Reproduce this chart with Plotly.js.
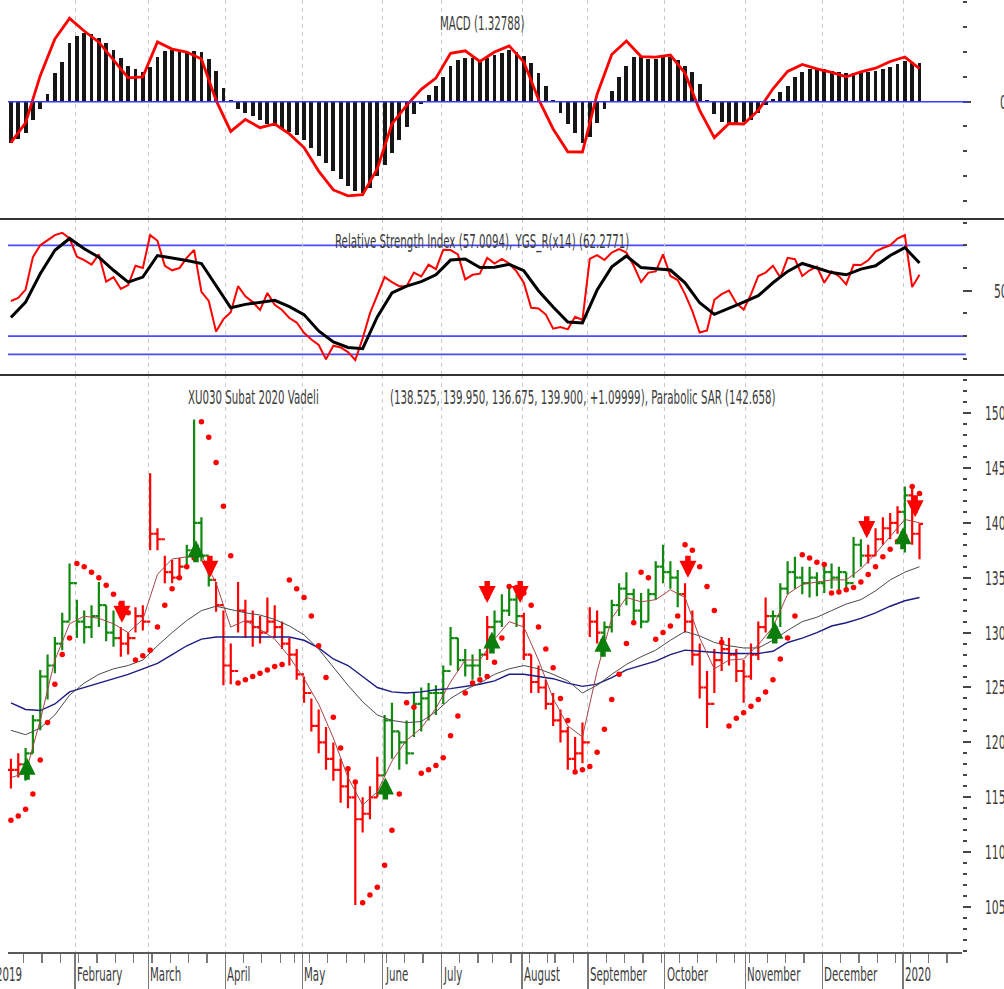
<!DOCTYPE html>
<html><head><meta charset="utf-8">
<script src="https://cdn.plot.ly/plotly-3.0.1.min.js"></script>
<style>html,body{margin:0;padding:0;background:#fff;overflow:hidden}#chart{width:1004px;height:989px}</style>
</head><body><div id="chart"></div>
<script>
// ---------- DATA ----------
// x unit = trading day index (0 = first visible bar, 8 Jan 2019)
const monthNames = ['2019','February','March','April','May','June','July','August','September','October','November','December','2020'];
const monthStart = [-4, 18, 38, 59, 80, 102, 118, 140, 158, 179, 201, 222, 244];
const weekStart = [4,9,14,19,24,29,34,39,44,49,54,59,64,69,74,78,82,87,92,97,102,103,108,113,118,123,128,132,137,142,147,149,154,158,163,168,173,178,183,188,193,198,202,207,212,217,222,227,232,237,242,246,251,256];

// price bars, one every 2 trading days
const barHigh = [118.5,119.0,119.5,122.5,126.6,128.0,129.6,131.8,136.3,133.0,
 132.0,132.5,134.6,132.5,132.0,130.5,130.0,132.3,132.5,144.5,
 139.5,137.0,136.6,136.8,138.0,149.4,140.5,136.2,134.6,132.0,
 129.0,134.6,133.0,132.0,131.5,133.2,132.5,131.0,129.5,128.5,
 126.0,124.0,123.0,121.4,120.0,118.5,117.8,116.2,115.0,116.0,
 118.7,122.5,123.6,121.0,122.0,124.5,125.0,125.4,125.2,127.0,
 130.5,129.5,128.5,128.0,128.5,131.5,132.0,133.5,134.0,133.5,
 131.8,128.0,127.0,125.7,124.5,123.0,121.4,120.5,121.8,132.3,
 132.0,131.0,133.0,134.5,135.5,134.0,133.6,134.0,136.5,138.0,
 136.5,135.7,134.5,132.0,129.0,126.5,128.5,129.6,129.5,128.5,
 127.5,129.0,131.0,133.2,132.0,134.5,136.5,136.9,136.0,136.0,
 135.5,136.0,136.3,136.0,135.5,138.7,138.5,138.0,139.5,140.5,
 140.9,141.5,143.3,143.2,139.95];
const barLow = [115.8,116.8,116.5,119.0,121.1,123.9,126.3,128.4,131.1,129.5,
 129.0,129.5,130.5,129.2,128.7,127.8,128.0,130.0,130.2,137.5,
 137.5,134.5,134.5,134.8,135.8,137.3,136.5,134.2,131.9,125.2,
 125.3,130.0,129.5,128.7,129.0,130.0,129.5,128.5,127.0,125.7,
 123.6,121.0,119.0,117.5,116.5,114.5,114.0,105.2,111.8,113.0,
 115.0,117.0,118.5,117.5,118.0,120.5,121.0,122.0,122.5,123.5,
 127.0,126.5,126.0,125.7,126.0,127.5,129.5,130.5,131.5,130.5,
 127.5,124.5,124.5,123.0,121.5,120.0,117.5,117.3,118.1,129.6,
 129.0,128.5,130.0,131.5,132.5,131.0,130.4,131.0,133.0,134.5,
 134.0,132.3,130.0,127.0,124.0,121.3,124.5,126.5,127.0,125.5,
 123.6,125.7,127.5,130.0,129.5,130.5,133.5,134.0,133.5,133.2,
 133.3,133.6,134.0,133.9,134.0,135.0,136.0,136.3,137.0,138.0,
 138.5,139.0,137.3,138.0,136.675];
const barClose = [117.5,118.0,119.0,122.0,126.0,127.0,129.0,131.0,134.5,131.0,
 130.5,131.5,132.5,130.0,129.5,129.0,129.5,131.5,131.0,139.0,
 138.5,135.5,135.0,136.0,137.5,140.0,137.0,134.8,132.5,127.0,
 126.5,132.0,131.0,130.5,130.0,131.0,130.5,129.0,128.0,126.2,
 124.5,121.5,120.0,118.5,117.5,116.0,115.0,113.0,113.5,115.0,
 117.0,122.0,121.0,120.0,119.0,123.5,124.0,124.5,124.5,126.5,
 129.5,127.5,127.0,127.0,128.0,130.5,131.0,132.0,133.0,131.5,
 128.0,125.5,125.0,123.5,122.0,121.0,118.5,119.0,120.0,131.0,
 130.0,130.5,132.5,134.0,133.5,132.0,131.0,133.5,136.0,135.5,
 135.0,133.5,131.0,128.0,125.0,123.5,127.5,128.5,128.0,126.5,
 126.0,128.0,130.5,131.5,131.5,134.0,135.5,135.0,134.5,135.0,
 134.5,135.5,135.0,135.5,134.5,138.0,137.0,137.0,138.5,139.5,
 140.0,141.0,142.5,139.0,139.9];
const barTrendRuns = [['R',2],['G',13],['R',9],['G',4],['R',23],['G',14],['R',1],['G',4],['R',11],['G',11],['R',12],['G',13],['R',5],['G',1],['R',2]];

// parabolic SAR, one value per bar
const sar = [112.9,113.3,113.9,115.3,118.4,121.8,125.3,128.0,129.5,136.3,
 136.0,135.5,135.0,134.3,133.5,132.6,131.8,127.5,127.9,128.4,
 130.5,132.5,134.0,135.0,136.0,136.8,149.2,147.8,145.5,141.5,
 137.0,125.4,125.7,126.0,126.3,126.6,126.9,127.1,134.8,134.0,
 133.2,131.5,128.8,125.9,122.3,119.5,117.6,116.4,105.4,106.1,
 106.8,108.8,112.0,115.3,123.6,123.2,117.2,117.5,117.9,118.6,
 120.6,122.4,124.5,125.4,125.7,126.0,127.3,129.5,134.2,134.1,
 133.6,132.5,130.5,128.5,126.8,124.0,122.0,117.3,117.5,117.8,
 119.1,121.2,123.9,126.2,129.0,130.9,135.5,135.0,129.4,130.0,
 130.6,131.5,138.0,137.5,136.0,134.2,132.0,129.1,121.5,122.2,
 122.7,123.3,123.9,124.6,125.7,127.6,129.5,131.5,137.1,136.8,
 136.4,136.2,133.6,133.7,133.9,134.1,134.6,135.3,136.0,136.9,
 137.6,138.3,138.8,143.3,142.66];

// moving averages, one value every 4 trading days
const maShort = [116.8,117.2,122.0,127.5,130.8,131.5,131.3,130.8,130.0,131.2,
 135.3,136.7,136.9,137.1,134.5,130.5,131.1,130.3,129.4,127.8,
 125.8,123.5,120.4,116.8,114.3,115.5,118.3,120.2,121.3,123.1,
 125.5,127.5,127.5,129.4,131.0,130.5,127.5,124.0,121.5,120.5,
 126.5,131.3,133.2,132.8,133.0,133.9,133.2,129.5,126.7,127.5,
 127.6,128.9,130.5,133.5,134.4,134.6,134.8,134.8,135.8,137.2,
 138.7,140.3,140.0];
const maMid = [121.1,120.7,121.3,122.5,124.3,125.4,126.2,126.7,127.0,127.5,
 128.8,130.0,131.1,132.0,132.4,132.1,131.8,131.6,131.2,130.6,
 129.8,128.5,126.8,125.2,123.7,122.5,122.0,121.8,121.9,122.8,
 124.0,124.8,125.4,126.2,126.7,127.0,126.7,126.2,125.6,124.5,
 125.2,126.2,127.1,127.8,128.4,129.3,130.1,129.7,129.1,128.8,
 128.6,128.6,129.3,130.2,131.0,131.4,132.0,132.6,133.0,133.8,
 134.8,135.5,136.0];
const maLong = [123.6,123.0,122.9,123.5,124.6,125.0,125.4,125.8,126.2,126.7,
 127.2,128.0,128.8,129.4,129.6,129.6,129.6,129.6,129.6,129.6,
 129.3,128.6,127.6,127.0,126.0,125.0,124.6,124.5,124.6,124.8,
 124.9,125.1,125.3,125.6,126.2,126.2,126.0,125.8,125.4,125.1,
 125.3,125.9,126.6,127.0,127.4,128.0,128.4,128.3,128.2,128.1,
 128.1,128.1,128.3,129.1,129.5,130.0,130.6,130.9,131.3,131.8,
 132.4,132.9,133.2];

// RSI(14) every 2 days, its average (YGS_R) every 4 days
const rsi = [45.5,46.8,50.5,64.8,70.0,72.3,74.5,75.5,73.0,65.0,
 63.5,61.5,66.0,54.0,56.0,50.8,52.5,61.0,60.0,74.5,
 72.0,61.0,59.0,60.0,64.5,68.0,49.5,45.5,32.0,37.5,
 40.5,52.0,47.5,45.0,41.5,49.0,43.8,41.5,38.0,36.0,
 31.5,28.5,26.1,19.8,25.8,25.0,23.0,19.5,29.0,40.0,
 47.8,56.0,53.8,52.0,52.0,58.0,56.3,61.5,59.5,68.0,
 67.9,66.0,55.0,57.0,57.5,64.5,62.0,64.0,62.0,58.5,
 53.5,42.5,42.2,39.5,33.3,34.0,33.0,38.5,37.1,64.0,
 65.7,63.5,66.8,68.3,66.8,61.0,53.8,58.0,58.5,66.0,
 56.5,54.7,48.5,41.0,31.6,32.5,46.0,48.5,50.1,44.5,
 41.7,48.4,56.5,58.0,61.0,55.8,64.5,63.9,56.5,59.0,
 60.6,53.5,58.5,56.4,52.8,61.4,61.3,63.4,67.2,68.8,
 70.0,73.0,74.5,51.6,57.0];
const rsiAvg = [38.2,45.0,57.5,67.8,73.0,68.5,64.8,59.0,53.8,56.0,
 65.5,64.5,63.3,62.0,52.2,42.5,44.0,45.0,45.8,43.0,
 39.5,32.3,27.5,25.0,24.5,38.5,49.0,52.0,54.0,57.0,
 63.5,64.0,60.2,60.3,61.6,58.8,50.0,42.8,36.2,35.8,
 50.3,60.5,65.3,60.2,59.8,59.1,53.5,44.7,39.6,42.2,
 45.0,47.8,53.5,58.5,62.0,60.0,58.0,57.0,59.5,61.0,
 65.5,69.0,62.2];
const rsiLevels = [70, 30, 22];

// MACD line every 4 days, signal histogram every 2 days
const macdLine = [-1.65,-0.85,1.05,2.53,3.36,2.85,2.40,1.70,0.96,1.00,
 2.41,2.12,2.00,1.72,0.05,-1.20,-0.72,-1.05,-0.90,-1.30,
 -1.85,-2.80,-3.56,-3.80,-3.75,-2.70,-0.90,-0.15,0.50,0.95,
 1.95,2.05,1.62,2.00,2.25,1.60,0.10,-1.10,-2.02,-2.03,
 0.30,1.90,2.45,1.82,1.80,1.88,1.15,-0.35,-1.45,-0.88,
 -0.90,-0.35,0.52,1.22,1.50,1.32,1.18,1.00,1.20,1.35,
 1.62,1.80,1.33];
const macdHist = [-1.65,-1.50,-1.27,-0.75,-0.30,0.30,1.15,1.62,2.38,2.65,
 2.77,2.72,2.58,2.38,2.10,1.75,1.45,1.30,1.20,1.40,
 1.82,2.03,2.10,2.02,2.00,2.03,2.00,1.72,1.25,0.57,
 0.05,-0.30,-0.45,-0.59,-0.74,-0.90,-1.00,-1.09,-1.21,-1.36,
 -1.55,-1.88,-2.18,-2.47,-2.80,-3.10,-3.40,-3.60,-3.68,-3.48,
 -3.00,-2.55,-2.05,-1.55,-1.02,-0.50,-0.09,0.28,0.62,1.00,
 1.45,1.68,1.78,1.77,1.68,1.76,1.87,1.98,2.07,2.02,
 1.85,1.55,1.15,0.63,0.07,-0.45,-0.90,-1.28,-1.65,-1.43,
 -0.86,-0.30,0.45,0.98,1.45,1.80,1.82,1.73,1.72,1.82,
 1.80,1.68,1.45,1.18,0.70,0.07,-0.48,-0.82,-0.86,-0.84,
 -0.82,-0.75,-0.45,-0.15,0.10,0.40,0.65,0.98,1.18,1.30,
 1.36,1.30,1.25,1.21,1.17,1.16,1.16,1.19,1.25,1.30,
 1.40,1.52,1.66,1.61,1.56];

// signal arrows (day index, price at arrow tip)
const buyIdx = [4.4, 50.5, 102.2, 131.3, 161.6, 208.5, 243.5];
const buyTip = [118.6, 138.4, 116.8, 130.1, 129.8, 131.0, 139.6];
const sellIdx = [30.3, 54.3, 130.0, 139.0, 184.8, 233.6, 246.8];
const sellTip = [130.9, 135.0, 132.7, 132.7, 135.0, 138.6, 140.5];

const titleMacd = 'MACD (1.32788)';
const titleRsi = 'Relative Strength Index (57.0094), YGS_R(x14) (62.2771)';
const titlePrice = 'XU030 Subat 2020 Vadeli';
const titleValues = '(138.525, 139.950, 136.675, 139.900, +1.09999), Parabolic SAR (142.658)';

// ---------- BUILD ----------
const FONT = "'Liberation Sans Narrow','Arial Narrow','DejaVu Sans Condensed',sans-serif";
const TXT = '#3c3c3c';
const XR = [-0.8, 259.6];
const idx = (arr, step) => arr.map((_, i) => i * step);
const barX = idx(barClose, 2);
const barOpen = barClose.map((c, i) => i === 0 ? c : barClose[i - 1]);
const trend = [];
barTrendRuns.forEach(([c, n]) => { for (let k = 0; k < n; k++) trend.push(c); });

function ohlcFor(flag, color) {
  const o = {x: [], open: [], high: [], low: [], close: []};
  trend.forEach((t, i) => {
    if (t !== flag) return;
    o.x.push(barX[i]); o.open.push(barOpen[i]); o.high.push(barHigh[i]);
    o.low.push(barLow[i]); o.close.push(barClose[i]);
  });
  return Object.assign(o, {type: 'ohlc', xaxis: 'x', yaxis: 'y', tickwidth: 0.48,
    increasing: {line: {color: color, width: 2.2}}, decreasing: {line: {color: color, width: 2.2}},
    hoverinfo: 'skip'});
}

const traces = [
  {x: idx(maLong, 4), y: maLong, type: 'scatter', mode: 'lines', line: {color: '#1c1c84', width: 1.4}, xaxis: 'x', yaxis: 'y'},
  {x: idx(maMid, 4), y: maMid, type: 'scatter', mode: 'lines', line: {color: '#4a4a4a', width: 1}, xaxis: 'x', yaxis: 'y'},
  {x: idx(maShort, 4), y: maShort, type: 'scatter', mode: 'lines', line: {color: '#a84545', width: 1}, xaxis: 'x', yaxis: 'y'},
  ohlcFor('G', '#0f8a0f'),
  ohlcFor('R', '#ff0000'),
  {x: idx(sar, 2), y: sar, type: 'scatter', mode: 'markers', marker: {color: '#ff0000', size: 5.5}, xaxis: 'x', yaxis: 'y'},
  {x: idx(rsi, 2), y: rsi, type: 'scatter', mode: 'lines', line: {color: '#ff0000', width: 2}, xaxis: 'x2', yaxis: 'y2'},
  {x: idx(rsiAvg, 4), y: rsiAvg, type: 'scatter', mode: 'lines', line: {color: '#000000', width: 3}, xaxis: 'x2', yaxis: 'y2'},
  {x: idx(macdHist, 2), y: macdHist, type: 'bar', width: 1.05, marker: {color: '#161616'}, xaxis: 'x3', yaxis: 'y3'},
  {x: idx(macdLine, 4), y: macdLine, type: 'scatter', mode: 'lines', line: {color: '#ff0000', width: 2.8}, xaxis: 'x3', yaxis: 'y3'}
];

const bounds = monthStart.map(s => s - 0.5);
const weekTicks = weekStart.map(s => s - 0.5);
const pxX = v => (v - XR[0]) / (XR[1] - XR[0]);

const gridX = {tickmode: 'array', tickvals: bounds, showgrid: true, gridcolor: '#c9c9c9', griddash: '4px,4px', gridwidth: 1,
  zeroline: false, range: XR, showticklabels: false, fixedrange: true};

const yTickBase = {side: 'right', showgrid: false, zeroline: false, showline: false, ticks: 'outside', tickwidth: 2, tickcolor: '#454545',
  tickfont: {family: FONT, size: 20, color: TXT}, fixedrange: true};

const annotations = [];
monthNames.forEach((m, i) => annotations.push({xref: 'paper', yref: 'paper', x: pxX(bounds[i]) , y: -0.0235, xanchor: 'left', yanchor: 'middle',
  align: 'left', text: m, showarrow: false, font: {family: FONT, size: 19, color: TXT}}));
[[titleMacd, 440, 23], [titleRsi, 335, 241], [titlePrice, 188, 397], [titleValues, 390, 397]].forEach(([t, px, py]) =>
  annotations.push({xref: 'paper', yref: 'paper', x: (px - 10) / 954, y: (952 - py) / 952, xanchor: 'left', yanchor: 'middle', align: 'left',
    text: t, showarrow: false, font: {family: FONT, size: 19, color: TXT}}));
buyIdx.forEach((d, i) => annotations.push({xref: 'x', yref: 'y', x: d, y: buyTip[i], ax: 0, ay: 32, text: ' ', showarrow: true,
  arrowhead: 2, arrowsize: 0.62, arrowwidth: 5.5, arrowcolor: '#0a7d0a', standoff: 0}));
sellIdx.forEach((d, i) => annotations.push({xref: 'x', yref: 'y', x: d, y: sellTip[i], ax: 0, ay: -32, text: ' ', showarrow: true,
  arrowhead: 2, arrowsize: 0.62, arrowwidth: 5.5, arrowcolor: '#ff0000', standoff: 0}));

const shapes = [];
rsiLevels.forEach(v => shapes.push({type: 'line', xref: 'paper', yref: 'y2', x0: 0, x1: 1.004, y0: v, y1: v, line: {color: '#4b4bff', width: 1.8}, layer: 'below'}));
shapes.push({type: 'line', xref: 'paper', yref: 'y3', x0: 0, x1: 1.006, y0: 0, y1: 0, line: {color: '#3a3aff', width: 1.5}, layer: 'above'});
[219, 375].forEach(py => shapes.push({type: 'line', xref: 'paper', yref: 'paper', x0: -0.01, x1: 1.05, y0: (952 - py) / 952, y1: (952 - py) / 952,
  line: {color: '#333333', width: 2}}));

const layout = {
  width: 1004, height: 989, margin: {l: 8, r: 42, t: 0, b: 37, pad: 0},
  paper_bgcolor: '#ffffff', plot_bgcolor: '#ffffff', showlegend: false, bargap: 0,
  xaxis: Object.assign({}, gridX, {anchor: 'y', domain: [0, 1], ticks: 'outside', ticklen: 37, tickwidth: 1.2, tickcolor: '#7a7a7a',
    showline: true, linecolor: '#5a5a5a', linewidth: 2, rangeslider: {visible: false},
    minor: {tickmode: 'array', tickvals: weekTicks, ticks: 'outside', ticklen: 9, tickwidth: 1.2, tickcolor: '#7a7a7a', showgrid: false}}),
  xaxis2: Object.assign({}, gridX, {anchor: 'y2', matches: 'x', ticks: ''}),
  xaxis3: Object.assign({}, gridX, {anchor: 'y3', matches: 'x', ticks: ''}),
  yaxis: Object.assign({}, yTickBase, {domain: [0, 0.6061], range: [100.91, 153.46], anchor: 'x', tickmode: 'array',
    tickvals: [105, 110, 115, 120, 125, 130, 135, 140, 145, 150], ticklen: 8, ticklabelstandoff: 10,
    minor: {tickmode: 'linear', tick0: 0, dtick: 1, ticks: 'outside', ticklen: 4, tickwidth: 2, tickcolor: '#454545'}}),
  yaxis2: Object.assign({}, yTickBase, {domain: [0.6061, 0.77], range: [12.9, 81.6], anchor: 'x2', tickmode: 'array',
    tickvals: [50], ticktext: ['50'], ticklen: 9, ticklabelstandoff: 18,
    minor: {tickmode: 'linear', tick0: 0, dtick: 10, ticks: 'outside', ticklen: 4, tickwidth: 2, tickcolor: '#454545'}}),
  yaxis3: Object.assign({}, yTickBase, {domain: [0.77, 1], range: [-4.73, 4.10], anchor: 'x3', tickmode: 'array',
    tickvals: [0], ticktext: ['0'], ticklen: 8, ticklabelstandoff: 25,
    minor: {tickmode: 'linear', tick0: 0, dtick: 1, ticks: 'outside', ticklen: 4, tickwidth: 2, tickcolor: '#454545'}}),
  annotations: annotations, shapes: shapes
};

const K = 0.6;
function squeeze() {
  document.querySelectorAll('#chart svg text').forEach(t => {
    if (!t.textContent.trim() || t.querySelector('tspan')) return;
    const w = t.getComputedTextLength();
    if (w > 0) { t.setAttribute('textLength', (w * K).toFixed(2)); t.setAttribute('lengthAdjust', 'spacingAndGlyphs'); }
  });
}
Plotly.newPlot('chart', traces, layout, {staticPlot: true, displayModeBar: false}).then(squeeze);
</script></body></html>
